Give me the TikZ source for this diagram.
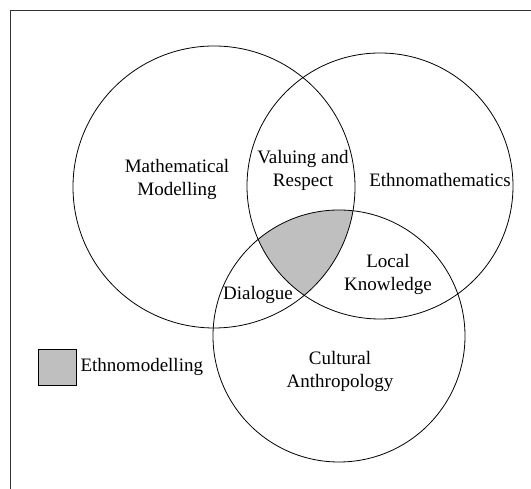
\documentclass[tikz,border=0pt]{standalone}
\usepackage{fontspec}
\setmainfont{Liberation Serif}
\usetikzlibrary{positioning}
\begin{document}
\begin{tikzpicture}[
    x=1pt, y=1pt,
    field/.style={circle, draw, line width=0.8pt, inner sep=0pt},
    txt/.style={align=center, inner sep=0pt, font=\fontsize{19}{23}\selectfont},
    overlap/.style={fill=black!25}
]
\useasboundingbox (0,0) rectangle (531,489);

% Frame
\draw[line width=0.8pt, black!80] (10,0) -- (10,479) -- (531,479);

% Shared region
\begin{scope}
    \clip (214,302) circle (141);
    \clip (380,303) circle (133);
    \fill[overlap] (339,153) circle (126);
\end{scope}

% Circles
\node[field, minimum size=282pt] (modelling) at (214,302) {};
\node[field, minimum size=266pt] (ethno) at (380,303) {};
\node[field, minimum size=252pt] (culture) at (339,153) {};

% Labels
\node[txt] (modtext) at (177,310) {Mathematical\\Modelling};
\node[txt] (ethnotext) at (440,309) {Ethnomathematics};
\node[txt] (culttext) at (340,118) {Cultural\\Anthropology};
\node[txt] (valuing) at (303,319) {Valuing and\\Respect};
\node[txt] (local) at (388,215) {Local\\Knowledge};
\node[txt] (dialogue) at (258,194) {Dialogue};

% Legend
\node[draw, overlap, line width=0.8pt, minimum width=38pt, minimum height=36pt] (key) at (57,122) {};
\node[txt, right=4pt of key] (keytext) {Ethnomodelling};

\end{tikzpicture}
\end{document}
